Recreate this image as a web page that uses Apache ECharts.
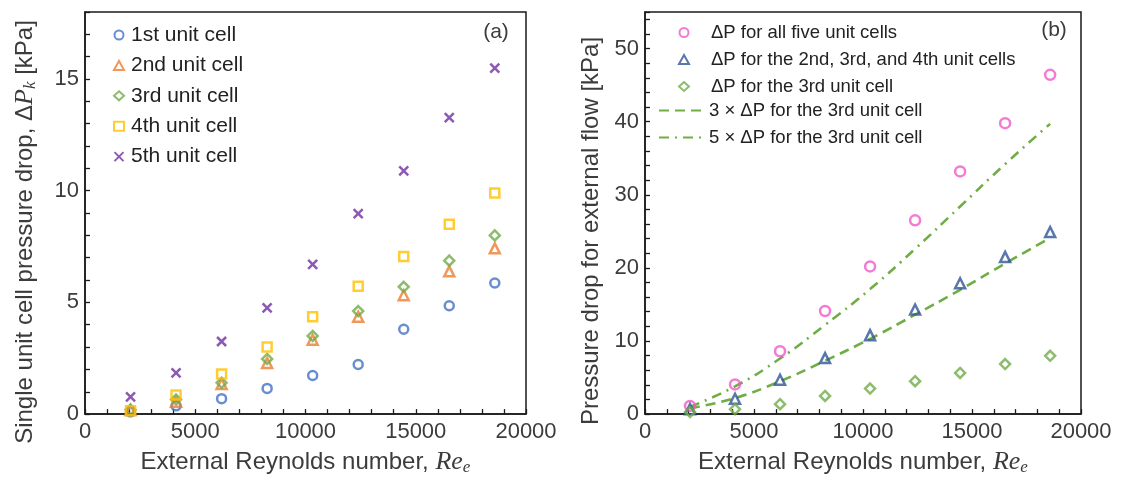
<!DOCTYPE html>
<html>
<head>
<meta charset="utf-8">
<script src="https://cdn.jsdelivr.net/npm/echarts@6/dist/echarts.min.js"></script>
<style>
  html, body { margin: 0; padding: 0; background: #fff; }
  #chart { width: 1125px; height: 481px; }
</style>
</head>
<body>
<div id="chart"></div>
<script>
// External Reynolds numbers of the nine operating points
const reynolds = [2065, 4130, 6195, 8260, 10325, 12390, 14455, 16520, 18585];

// (a) pressure drop of each single unit cell [kPa]
const cell1 = [0.10, 0.37, 0.69, 1.15, 1.73, 2.22, 3.80, 4.85, 5.87];
const cell2 = [0.18, 0.55, 1.35, 2.29, 3.33, 4.36, 5.32, 6.39, 7.42];
const cell3 = [0.20, 0.65, 1.40, 2.47, 3.50, 4.61, 5.70, 6.87, 8.00];
const cell4 = [0.15, 0.86, 1.80, 3.00, 4.36, 5.72, 7.06, 8.50, 9.90];
const cell5 = [0.77, 1.85, 3.25, 4.76, 6.70, 8.97, 10.89, 13.27, 15.49];

// (b) pressure drop for external flow [kPa]
const allFive = [1.12, 4.06, 8.60, 14.10, 20.20, 26.50, 33.20, 39.80, 46.40];
const middleThree = [0.68, 2.10, 4.70, 7.66, 10.80, 14.30, 17.90, 21.50, 24.90];
const thirdOnly = [0.30, 0.68, 1.35, 2.48, 3.50, 4.50, 5.63, 6.85, 7.98];
const threeTimesThird = [0.80, 2.20, 4.50, 7.30, 10.30, 13.60, 17.00, 20.60, 24.10];
const fiveTimesThird = [1.00, 3.80, 7.60, 12.20, 17.10, 22.60, 28.40, 34.20, 39.70];

const namesA = ['1st unit cell', '2nd unit cell', '3rd unit cell', '4th unit cell', '5th unit cell'];
const namesB = ['ΔP for all five unit cells', 'ΔP for the 2nd, 3rd, and 4th unit cells',
  'ΔP for the 3rd unit cell', '3 × ΔP for the 3rd unit cell', '5 × ΔP for the 3rd unit cell'];

const xTicksEvery = 5000;
const yTicksEveryA = 5;
const yTicksEveryB = 10;

const pairs = (ys) => reynolds.map((x, i) => [x, ys[i]]);

const SANS = 'Liberation Sans';
const SERIF = 'Liberation Serif';
const INK = '#1a1a1a';
const LABEL = '#3c3c3c';
const CROSS = 'path://M0,0L10,10M0,10L10,0';

const titleRich = {
  it: { fontFamily: SERIF, fontStyle: 'italic', fontSize: 26, lineHeight: 28, color: LABEL },
  sub: { fontFamily: SERIF, fontStyle: 'italic', fontSize: 17, lineHeight: 14, verticalAlign: 'bottom', color: LABEL }
};

function xAxisFor(grid) {
  return {
    gridIndex: grid, type: 'value', min: 0, max: 20000, interval: 1000,
    axisLine: { lineStyle: { color: INK, width: 1.5 } },
    axisTick: { inside: true, length: 5, lineStyle: { color: INK, width: 1.3 } },
    axisLabel: {
      margin: 7, fontSize: 22, fontFamily: SANS, color: LABEL,
      formatter: v => (v % xTicksEvery === 0 ? String(v) : '')
    },
    splitLine: { show: false },
    name: 'External Reynolds number, {it|Re}{sub|e}',
    nameLocation: 'middle', nameGap: 32,
    nameTextStyle: { fontSize: 24, fontFamily: SANS, color: LABEL, lineHeight: 28, rich: titleRich }
  };
}

function yAxisFor(grid, max, interval, labelEvery) {
  return {
    gridIndex: grid, type: 'value', min: 0, max: max, interval: interval,
    axisLine: { lineStyle: { color: INK, width: 1.5 } },
    axisTick: { inside: true, length: 5, lineStyle: { color: INK, width: 1.3 } },
    axisLabel: {
      margin: 6, fontSize: 22, fontFamily: SANS, color: LABEL,
      formatter: v => (v % labelEvery === 0 ? String(v) : '')
    },
    splitLine: { show: false }
  };
}

function hollow(name, data, symbol, color, size, grid) {
  return {
    name: name, type: 'scatter', xAxisIndex: grid, yAxisIndex: grid,
    data: data, symbol: symbol, symbolSize: size,
    itemStyle: { color: 'rgba(255,255,255,0)', borderColor: color, borderWidth: 2.5 },
    emphasis: { disabled: true }
  };
}

function fitLine(name, data, dash) {
  return {
    name: name, type: 'line', xAxisIndex: 1, yAxisIndex: 1,
    data: data, smooth: true, symbol: 'none',
    lineStyle: { color: '#70AD47', width: 2.6, type: dash },
    itemStyle: { color: '#70AD47' },
    emphasis: { disabled: true }, z: 1
  };
}

const chart = echarts.init(document.getElementById('chart'), null, { renderer: 'canvas' });

chart.setOption({
  animation: false,
  backgroundColor: '#fff',
  textStyle: { fontFamily: SANS },
  grid: [
    { left: 85, top: 12, width: 441, height: 406, show: true, borderColor: INK, borderWidth: 1.5, backgroundColor: '#fff' },
    { left: 645, top: 12, width: 436, height: 406, show: true, borderColor: INK, borderWidth: 1.5, backgroundColor: '#fff' }
  ],
  xAxis: [xAxisFor(0), xAxisFor(1)],
  yAxis: [yAxisFor(0, 18, 1, yTicksEveryA), yAxisFor(1, 55, 2, yTicksEveryB)],
  legend: [
    {
      data: namesA, orient: 'vertical', left: 113, top: 24, padding: 0,
      itemWidth: 10, itemHeight: 9, itemGap: 8.4,
      textStyle: { fontSize: 21, lineHeight: 22, color: '#222', fontFamily: SANS, padding: [0, 0, 0, 2] },
      selectedMode: false
    },
    {
      data: namesB.slice(0, 3), orient: 'vertical', left: 678, top: 23, padding: 0,
      itemWidth: 10, itemHeight: 9, itemGap: 8,
      textStyle: { fontSize: 18.5, lineHeight: 18, color: '#222', fontFamily: SANS, padding: [0, 0, 0, 17] },
      selectedMode: false
    },
    {
      data: namesB.slice(3), orient: 'vertical', left: 658, top: 101, padding: 0,
      itemWidth: 45, itemHeight: 9, itemGap: 8,
      itemStyle: { opacity: 0 },
      textStyle: { fontSize: 18.5, lineHeight: 18, color: '#222', fontFamily: SANS },
      selectedMode: false
    }
  ],
  graphic: [
    {
      type: 'text', x: 25, y: 232, rotation: Math.PI / 2,
      style: {
        text: 'Single unit cell pressure drop, Δ{it|P}{sub|k} [kPa]',
        font: '24px "Liberation Sans"', fill: LABEL, align: 'center', verticalAlign: 'middle',
        lineHeight: 28, rich: titleRich
      }
    },
    {
      type: 'text', x: 591, y: 231, rotation: Math.PI / 2,
      style: {
        text: 'Pressure drop for external flow [kPa]',
        font: '24px "Liberation Sans"', fill: LABEL, align: 'center', verticalAlign: 'middle'
      }
    },
    {
      type: 'text', x: 496, y: 32,
      style: { text: '(a)', font: '21px "Liberation Sans"', fill: LABEL, align: 'center', verticalAlign: 'middle' }
    },
    {
      type: 'text', x: 1054, y: 30,
      style: { text: '(b)', font: '21px "Liberation Sans"', fill: LABEL, align: 'center', verticalAlign: 'middle' }
    }
  ],
  series: [
    hollow(namesA[0], pairs(cell1), 'circle', '#4472C4', 9, 0),
    hollow(namesA[1], pairs(cell2), 'triangle', '#ED7D31', 10, 0),
    hollow(namesA[2], pairs(cell3), 'diamond', '#70AD47', 10, 0),
    hollow(namesA[3], pairs(cell4), 'rect', '#FFC000', 9, 0),
    hollow(namesA[4], pairs(cell5), CROSS, '#7030A0', 9, 0),
    fitLine(namesB[3], pairs(threeTimesThird), [10, 6]),
    fitLine(namesB[4], pairs(fiveTimesThird), [10, 6, 2, 6]),
    hollow(namesB[0], pairs(allFive), 'circle', '#F05AC8', 10, 1),
    hollow(namesB[1], pairs(middleThree), 'triangle', '#2F5597', 10, 1),
    hollow(namesB[2], pairs(thirdOnly), 'diamond', '#70AD47', 10, 1)
  ]
});
</script>
</body>
</html>
